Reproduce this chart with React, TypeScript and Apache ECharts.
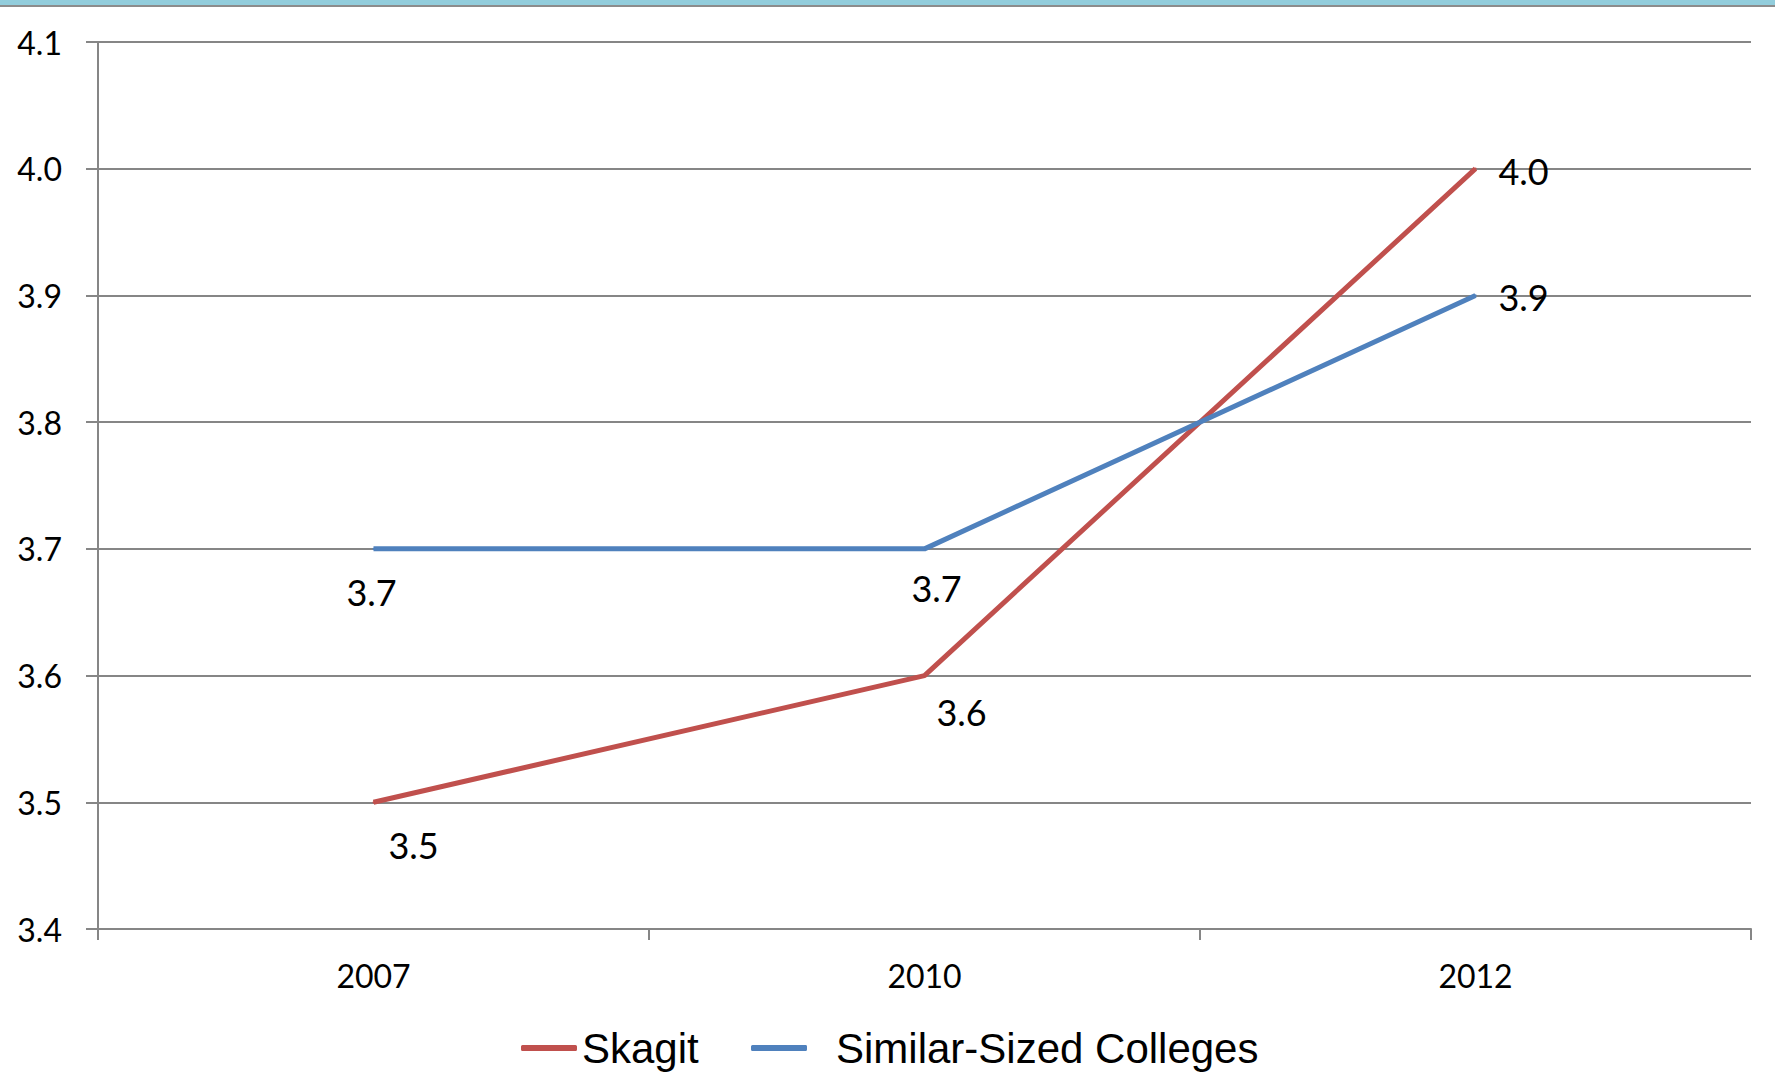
import React, { useEffect, useRef } from "react";
import * as echarts from "echarts";

const categories = ["2007", "2010", "2012"];
const skagit = [3.5, 3.6, 4.0];
const similar = [3.7, 3.7, 3.9];
const yMin = 3.4;
const yMax = 4.1;
const yStep = 0.1;

const skagitOffsets = [[40, 43], [37, 36], [48, 2]];
const similarOffsets = [[-2, 43], [12, 39], [48, 2]];

const RED = "#C0504D";
const BLUE = "#4F81BD";
const GRID = "#868686";
const LABEL_FONT = "Lato, 'Open Sans', sans-serif";
const LEGEND_FONT = "'Liberation Sans', Arial, sans-serif";

function buildData(values: number[], offsets: number[][]) {
  return values.map((v, i) => ({
    value: v,
    label: { offset: offsets[i] },
  }));
}

export default function App() {
  const ref = useRef<HTMLDivElement>(null);
  useEffect(() => {
    if (!ref.current) return;
    const chart = echarts.init(ref.current, undefined, { renderer: "svg" });
    const seriesLabel = {
      show: true,
      position: "inside",
      color: "#000",
      fontFamily: LABEL_FONT,
      fontSize: 36,
      formatter: (p: any) => Number(p.value).toFixed(1),
    };
    chart.setOption({
      animation: false,
      backgroundColor: "#fff",
      graphic: [
        { type: "rect", left: 0, top: 0, shape: { x: 0, y: 0, width: 1775, height: 5 }, style: { fill: "#92CDDC" } },
        { type: "rect", left: 0, top: 5, shape: { x: 0, y: 0, width: 1775, height: 2 }, style: { fill: "#8C8C8C" } },
      ],
      grid: { left: 98, right: 24, top: 42, bottom: 162, containLabel: false },
      legend: [
        {
          left: 516,
          top: 1022,
          data: ["Skagit"],
          icon: "roundRect",
          itemWidth: 56,
          itemHeight: 6,
          selectedMode: false,
          textStyle: { fontFamily: LEGEND_FONT, fontSize: 42, lineHeight: 42, color: "#000" },
        },
        {
          left: 746,
          top: 1022,
          data: ["Similar-Sized Colleges"],
          icon: "roundRect",
          itemWidth: 56,
          itemHeight: 6,
          selectedMode: false,
          textStyle: { fontFamily: LEGEND_FONT, fontSize: 42, lineHeight: 42, color: "#000", padding: [0, 0, 0, 24] },
        },
      ],
      xAxis: {
        type: "category",
        data: categories,
        boundaryGap: true,
        axisLine: { show: true, lineStyle: { color: GRID, width: 2 } },
        axisTick: { show: true, length: 11, alignWithLabel: false, lineStyle: { color: GRID, width: 2 } },
        axisLabel: { color: "#000", fontFamily: LABEL_FONT, fontSize: 32, margin: 30 },
        splitLine: { show: false },
      },
      yAxis: {
        type: "value",
        min: yMin,
        max: yMax,
        interval: yStep,
        axisLine: { show: true, lineStyle: { color: GRID, width: 2 } },
        axisTick: { show: true, length: 12, lineStyle: { color: GRID, width: 2 } },
        axisLabel: {
          color: "#000",
          fontFamily: LABEL_FONT,
          fontSize: 32,
          margin: 36,
          formatter: (v: number) => v.toFixed(1),
        },
        splitLine: { show: true, lineStyle: { color: GRID, width: 2 } },
      },
      series: [
        {
          name: "Skagit",
          type: "line",
          data: buildData(skagit, skagitOffsets),
          symbol: "circle",
          symbolSize: 2,
          itemStyle: { color: RED },
          lineStyle: { color: RED, width: 5 },
          label: seriesLabel,
        },
        {
          name: "Similar-Sized Colleges",
          type: "line",
          data: buildData(similar, similarOffsets),
          symbol: "circle",
          symbolSize: 2,
          itemStyle: { color: BLUE },
          lineStyle: { color: BLUE, width: 5 },
          label: seriesLabel,
        },
      ],
    });
    return () => chart.dispose();
  }, []);
  return (
    <div
      ref={ref}
      style={{ position: "fixed", left: 0, top: 0, width: 1775, height: 1091 }}
    />
  );
}
